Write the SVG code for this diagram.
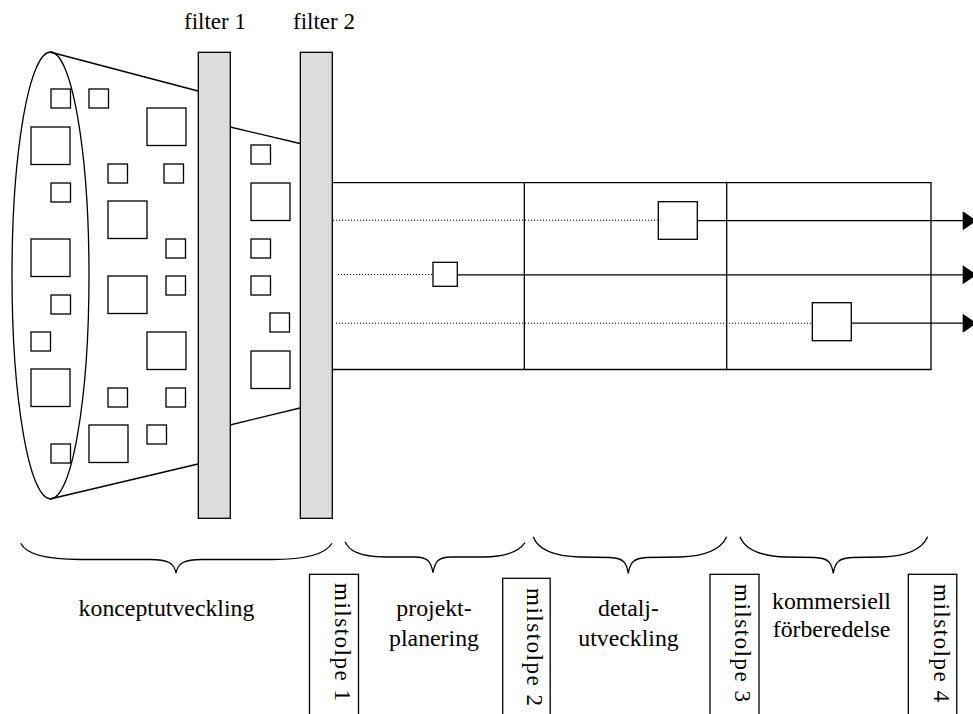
<svg xmlns="http://www.w3.org/2000/svg" width="973" height="714" viewBox="0 0 973 714">
  <style>
    .ln { fill: none; stroke: #000; stroke-width: 1.3; }
    .sq { fill: none; stroke: #000; stroke-width: 1.3; }
    .box { fill: #fff; stroke: #000; stroke-width: 1.3; }
    .filter { fill: #dcdcdc; stroke: #000; stroke-width: 1.3; }
    .dot { fill: none; stroke: #000; stroke-width: 1.1; stroke-dasharray: 1.1 1.9; }
    .txt { font-family: "Liberation Serif", "Times New Roman", serif; font-size: 23px; fill: #000; }
    .lbl { font-size: 23.8px; }
    .mid { text-anchor: middle; }
    .head { fill: #000; stroke: none; }
  </style>
  <defs>
    <rect id="s" width="19.5" height="19" class="sq"/>
    <rect id="b" width="39" height="37.5" class="sq"/>
    <polygon id="arrowhead" points="0,-9.5 14,0 0,9.5" class="head"/>
  </defs>

  <rect width="973" height="714" fill="#fff"/>

  <!-- idea funnel -->
  <g id="funnel">
    <ellipse cx="50.5" cy="275.5" rx="38.5" ry="223.5" class="ln"/>
    <path d="M50 52 L198 91 M50 499 L198 464" class="ln"/>
    <path d="M230 127 L300 143.5 M230 425 L300 408" class="ln"/>
  </g>

  <!-- ideas -->
  <g id="ideas">
    <use href="#s" x="51" y="89"/>
    <use href="#s" x="89" y="89"/>
    <use href="#b" x="147" y="108"/>
    <use href="#b" x="31" y="127"/>
    <use href="#s" x="108" y="164"/>
    <use href="#s" x="164" y="164"/>
    <use href="#s" x="51" y="183"/>
    <use href="#b" x="108" y="201"/>
    <use href="#s" x="166" y="239"/>
    <use href="#b" x="31" y="239"/>
    <use href="#b" x="108" y="276"/>
    <use href="#s" x="166" y="276"/>
    <use href="#s" x="51" y="295"/>
    <use href="#s" x="31" y="332"/>
    <use href="#b" x="147" y="332"/>
    <use href="#b" x="31" y="369"/>
    <use href="#s" x="108" y="388"/>
    <use href="#s" x="166" y="388"/>
    <use href="#b" x="89" y="425"/>
    <use href="#s" x="147" y="425"/>
    <use href="#s" x="51" y="444"/>
    <use href="#s" x="251" y="145"/>
    <use href="#b" x="251" y="183"/>
    <use href="#s" x="251" y="239"/>
    <use href="#s" x="251" y="276"/>
    <use href="#s" x="270" y="313"/>
    <use href="#b" x="251" y="351"/>
  </g>

  <!-- filters -->
  <g id="filter1">
    <rect x="198.3" y="52.3" width="32" height="466" class="filter"/>
    <text x="184" y="29" class="txt">filter 1</text>
  </g>
  <g id="filter2">
    <rect x="300.3" y="52.3" width="32" height="466" class="filter"/>
    <text x="293" y="29" class="txt">filter 2</text>
  </g>

  <!-- project phases -->
  <g id="phases">
    <path d="M332.3 182.7 H931 V369.5 H332.3" class="ln"/>
    <line x1="524.3" y1="182.7" x2="524.3" y2="370" class="ln"/>
    <line x1="726.7" y1="182.7" x2="726.7" y2="370" class="ln"/>
  </g>

  <!-- connectors -->
  <g id="connectors">
    <line x1="333" y1="220.3" x2="658.3" y2="220.3" class="dot"/>
    <line x1="697.3" y1="220.7" x2="963" y2="220.7" class="ln"/>
    <use href="#arrowhead" x="962.7" y="220.7"/>

    <line x1="338" y1="274.5" x2="433" y2="274.5" class="dot"/>
    <line x1="457.3" y1="274.8" x2="963" y2="274.8" class="ln"/>
    <use href="#arrowhead" x="962.7" y="274.8"/>

    <line x1="336" y1="323.2" x2="812.3" y2="323.2" class="dot"/>
    <line x1="851.3" y1="323.2" x2="963" y2="323.2" class="ln"/>
    <use href="#arrowhead" x="962.7" y="323.2"/>
  </g>

  <!-- projects -->
  <g id="project-a">
    <rect x="658.3" y="201.7" width="39" height="37.6" class="box"/>
  </g>
  <g id="project-b">
    <rect x="433" y="262.3" width="24.3" height="24" class="box"/>
  </g>
  <g id="project-c">
    <rect x="812.3" y="302.7" width="39" height="38" class="box"/>
  </g>

  <!-- phase braces -->
  <g id="braces">
    <path d="M20.7 543.3 C25 552 40 559.5 80 559.5 L150 559.5 C168 559.5 174 563 176 573 C178 563 184 559.5 202 559.5 L272 559.5 C312 559.5 327 552 332 543.3" class="ln"/>
    <path d="M345 541.7 C349 550 358 557 385 557 L415 557 C428 557 431 562 433 572.7 C435 562 438 557 451 557 L483 557 C510 557 520 550 525 542.7" class="ln"/>
    <path d="M533.3 536.7 C537 547 550 556 580 557 L610 557.5 C624 558 626.5 563 628.3 573.3 C630 563 633 558 647 557.5 L680 557 C710 556 722 547 726.7 536.7" class="ln"/>
    <path d="M740 536.7 C744 547 756 556 786 557 L815 557.5 C829 558 831.5 563 833.3 573.3 C835 563 838 558 852 557.5 L882 557 C912 556 923 547 927.7 536.7" class="ln"/>
  </g>

  <!-- phase labels -->
  <g id="label-konceptutveckling">
    <text x="166.5" y="616" class="txt lbl mid">konceptutveckling</text>
  </g>
  <g id="label-projektplanering">
    <text x="434" y="616" class="txt lbl mid">projekt-</text>
    <text x="434" y="645.5" class="txt lbl mid">planering</text>
  </g>
  <g id="label-detaljutveckling">
    <text x="628.5" y="616" class="txt lbl mid">detalj-</text>
    <text x="628.5" y="645.5" class="txt lbl mid">utveckling</text>
  </g>
  <g id="label-kommersiell">
    <text x="831.5" y="609" class="txt lbl mid">kommersiell</text>
    <text x="831.5" y="637" class="txt lbl mid">förberedelse</text>
  </g>

  <!-- milestones -->
  <g id="milstolpe1">
    <rect x="309.5" y="574.3" width="49" height="150" class="box"/>
    <text transform="translate(334.5 583) rotate(90)" class="txt" textLength="118" lengthAdjust="spacing">milstolpe 1</text>
  </g>
  <g id="milstolpe2">
    <rect x="502.7" y="578.3" width="47.5" height="150" class="box"/>
    <text transform="translate(527 588) rotate(90)" class="txt" textLength="118" lengthAdjust="spacing">milstolpe 2</text>
  </g>
  <g id="milstolpe3">
    <rect x="710" y="574.3" width="49" height="150" class="box"/>
    <text transform="translate(735 584) rotate(90)" class="txt" textLength="118" lengthAdjust="spacing">milstolpe 3</text>
  </g>
  <g id="milstolpe4">
    <rect x="908.3" y="574.3" width="48.5" height="150" class="box"/>
    <text transform="translate(933.5 584) rotate(90)" class="txt" textLength="118" lengthAdjust="spacing">milstolpe 4</text>
  </g>
</svg>
